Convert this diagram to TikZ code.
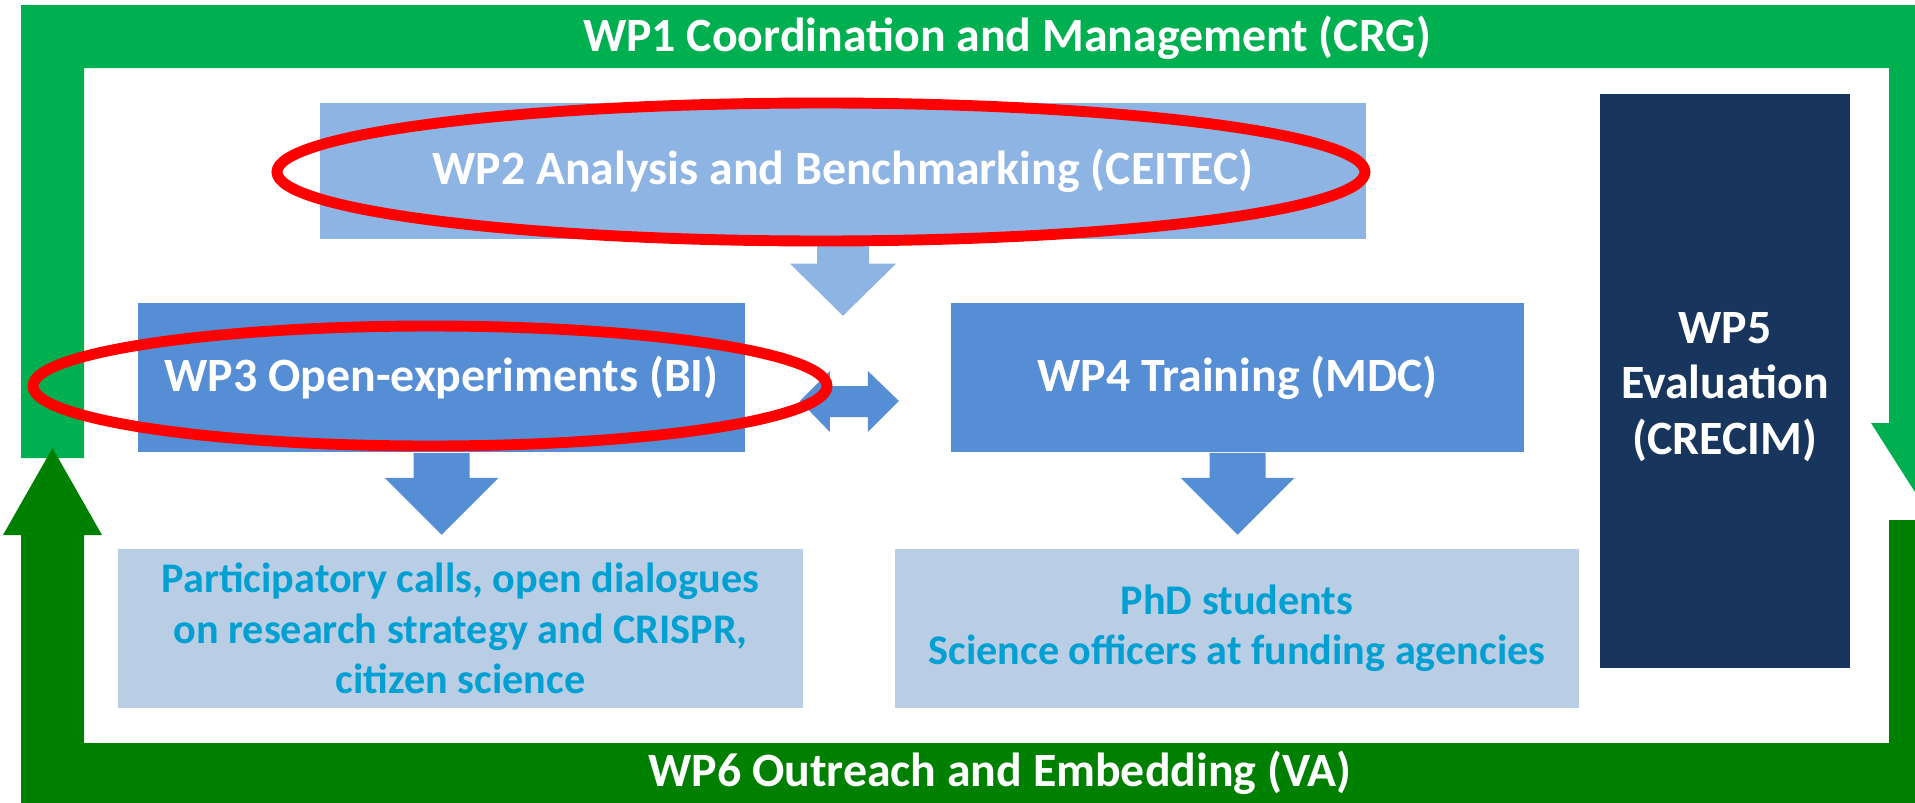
\documentclass[tikz,border=0pt]{standalone}
\usepackage{fontspec}
\setmainfont{Carlito}
\usetikzlibrary{positioning,calc}
\definecolor{wpgreen}{RGB}{0,175,80}
\definecolor{wpdarkgreen}{RGB}{0,128,0}
\definecolor{wplight}{RGB}{142,180,227}
\definecolor{wpmid}{RGB}{85,142,213}
\definecolor{wppale}{RGB}{185,205,229}
\definecolor{wptext}{RGB}{0,160,210}
\definecolor{wpnavy}{RGB}{24,54,93}
\tikzset{
	wp/.style={inner sep=0pt, align=center, text=white, font=\fontsize{13.6}{15.8}\selectfont\bfseries},
	target/.style={wp, fill=wppale, text=wptext, font=\fontsize{12}{14.3}\selectfont\bfseries},
	redring/.style={draw=red, line width=3.1pt}
}
\begin{document}
\begin{tikzpicture}[x=0.01cm,y=-0.01cm]
				\clip (0,0) rectangle (1915,803);
				% loop arrows WP1 / WP6
				\fill[wpgreen] (21,458) -- (21,5) -- (1952,5) -- (1952,423) -- (1970,423) -- (1920,500) -- (1871,423) -- (1889,423) -- (1889,68) -- (84,68) -- (84,458) -- cycle;
				\fill[wpdarkgreen] (52.5,448) -- (102,535) -- (84,535) -- (84,743) -- (1889,743) -- (1889,520) -- (1952,520) -- (1952,806) -- (21,806) -- (21,535) -- (3,535) -- cycle;
				\node[wp] (wp1) at (1007,38) {WP1 Coordination and Management (CRG)};
				\node[wp] (wp6) at (1000,773) {WP6 Outreach and Embedding (VA)};
				% work packages
				\node[wp, fill=wplight, minimum width=10.46cm, minimum height=1.36cm] (wp2) at (843,171) {WP2 Analysis and Benchmarking (CEITEC)};
				\node[wp, fill=wpmid, minimum width=6.07cm, minimum height=1.49cm] (wp3) at (441.5,377.5) {WP3 Open-experiments (BI)};
				\node[wp, fill=wpmid, minimum width=5.73cm, minimum height=1.49cm] (wp4) at (1237.5,377.5) {WP4 Training (MDC)};
				\node[wp, fill=wpnavy, minimum width=2.5cm, minimum height=5.74cm, label={[wp, yshift=-0.06cm]center:{WP5\\Evaluation\\(CRECIM)}}] (wp5) at (1725,381) {};
				\node[target, minimum width=6.85cm, minimum height=1.59cm] (calls) at (460.5,628.5) {Participatory calls, open dialogues\\on research strategy and CRISPR,\\citizen science};
				\node[target, minimum width=6.84cm, minimum height=1.59cm] (phd) at (1237,628.5) {PhD students\\Science officers at funding agencies};
				% block arrows
				\fill[wplight] (wp2.south) ++(-26,0) -- ++(0,24) -- ++(-27,0) -- ++(53,52) -- ++(53,-52) -- ++(-27,0) -- ++(0,-24) -- cycle;
				\foreach \n in {wp3,wp4} {\fill[wpmid] (\n.south) ++(-28,0) -- ++(0,25) -- ++(-29,0) -- ++(57,57) -- ++(57,-57) -- ++(-29,0) -- ++(0,-25) -- cycle;}
				\fill[wpmid] ($(wp3.east)+(54,23.5)$) -- ++(30,-30) -- ++(0,15) -- ++(38,0) -- ++(0,-15) -- ++(31,30) -- ++(-31,31) -- ++(0,-15) -- ++(-38,0) -- ++(0,15) -- cycle;
				% highlights
				\draw[redring] (821,172) ellipse [x radius=544, y radius=69];
				\draw[redring] (430,386) ellipse [x radius=397, y radius=60];
\end{tikzpicture}
\end{document}
